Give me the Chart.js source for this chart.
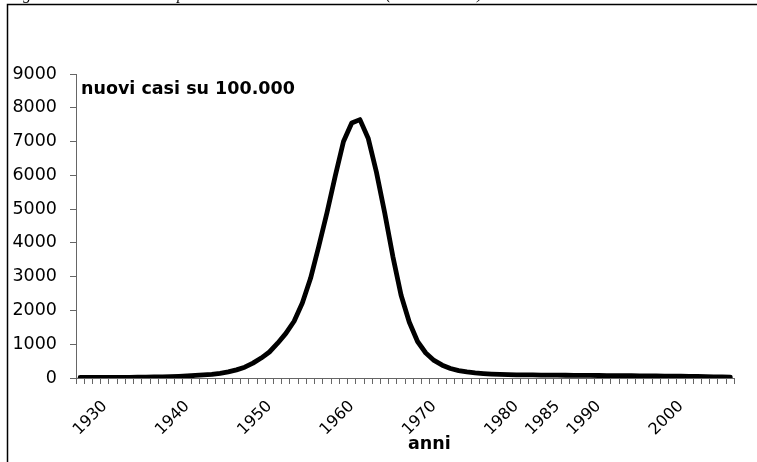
<!DOCTYPE html>
<html>
<head>
<meta charset="utf-8">
<script src="https://cdn.jsdelivr.net/npm/chart.js@4/dist/chart.umd.min.js"></script>
<style>
  html, body { margin: 0; padding: 0; background: #fff; overflow: hidden; }
  #wrap { position: relative; width: 757px; height: 462px; }
  #c { display: block; }
</style>
</head>
<body>
<div id="wrap"><canvas id="c" width="757" height="462"></canvas></div>
<script>
// ---- data ----
const years = [1927,1928,1929,1930,1931,1932,1933,1934,1935,1936,
               1937,1938,1939,1940,1941,1942,1943,1944,1945,1946,
               1947,1948,1949,1950,1951,1952,1953,1954,1955,1956,
               1957,1958,1959,1960,1961,1962,1963,1964,1965,1966,
               1967,1968,1969,1970,1971,1972,1973,1974,1975,1976,
               1977,1978,1979,1980,1981,1982,1983,1984,1985,1986,
               1987,1988,1989,1990,1991,1992,1993,1994,1995,1996,
               1997,1998,1999,2000,2001,2002,2003,2004,2005,2006];
const newCases = [15,15,15,15,15,18,20,22,25,30,
                  35,40,50,60,75,90,110,140,180,240,
                  320,440,590,770,1030,1320,1680,2220,2950,3900,
                  4900,5980,7000,7550,7650,7100,6100,4900,3600,2450,
                  1650,1080,740,520,380,280,220,180,150,130,
                  115,105,100,95,92,90,88,86,84,82,
                  80,78,76,74,72,70,68,66,64,62,
                  60,58,56,54,50,45,40,35,30,25];
const labeledYears = [1930,1940,1950,1960,1970,1980,1985,1990,2000];
const yTicks = [0,1000,2000,3000,4000,5000,6000,7000,8000,9000];
const seriesTitle = 'nuovi casi su 100.000';
const xTitle = 'anni';
const caption = 'Figura 4: Incidenza della poliomielite in Italia 1930-2006 (valori stimati)';

const FONT = 'DejaVu Sans';

const decor = {
  id: 'decor',
  afterDraw(chart) {
    const ctx = chart.ctx;
    ctx.save();
    // frame
    ctx.strokeStyle = '#000';
    ctx.lineWidth = 1.5;
    ctx.beginPath();
    ctx.moveTo(780, 4.5); ctx.lineTo(7.5, 4.5); ctx.lineTo(7.5, 480);
    ctx.stroke();
    // caption (cut off at top)
    ctx.fillStyle = '#000';
    ctx.font = 'italic 16px "Liberation Serif"';
    ctx.textAlign = 'left';
    ctx.textBaseline = 'alphabetic';
    ctx.fillText(caption, 9, -1);
    // series title inside plot
    ctx.font = 'bold 17.5px "' + FONT + '"';
    ctx.fillText(seriesTitle, 81, 94);
    // x axis title
    ctx.fillText(xTitle, 408, 449);
    ctx.restore();
  }
};

new Chart(document.getElementById('c'), {
  type: 'line',
  data: {
    labels: years,
    datasets: [{
      data: newCases,
      borderColor: '#000',
      borderWidth: 4.8,
      borderJoinStyle: 'round',
      borderCapStyle: 'round',
      pointRadius: 0,
      tension: 0,
      fill: false
    }]
  },
  options: {
    responsive: false,
    animation: false,
    devicePixelRatio: 1,
    layout: { padding: { top: 74, right: 20, bottom: 0, left: 0 } },
    plugins: { legend: { display: false }, tooltip: { enabled: false } },
    scales: {
      x: {
        type: 'category',
        offset: true,
        grid: { offset: true, drawOnChartArea: false, drawTicks: true, tickLength: 6, color: '#666', lineWidth: 1 },
        border: { display: true, color: '#666', width: 1 },
        ticks: {
          autoSkip: false,
          minRotation: 45,
          maxRotation: 45,
          padding: 13,
          color: '#000',
          font: { family: FONT, size: 16 },
          callback: function (v, i) {
            return labeledYears.includes(years[i]) ? String(years[i]) : '';
          }
        },
        afterFit(s) { s.height = 84; }
      },
      y: {
        min: yTicks[0],
        max: yTicks[yTicks.length - 1],
        afterBuildTicks(s) { s.ticks = yTicks.map(v => ({ value: v })); },
        grid: { drawOnChartArea: false, drawTicks: true, tickLength: 6, color: '#666', lineWidth: 1 },
        border: { display: true, color: '#666', width: 1 },
        ticks: {
          padding: 13,
          color: '#000',
          font: { family: FONT, size: 17.5 },
          callback: function (v) { return String(v); }
        },
        afterFit(s) { s.width = 76; }
      }
    }
  },
  plugins: [decor]
});
</script>
</body>
</html>
